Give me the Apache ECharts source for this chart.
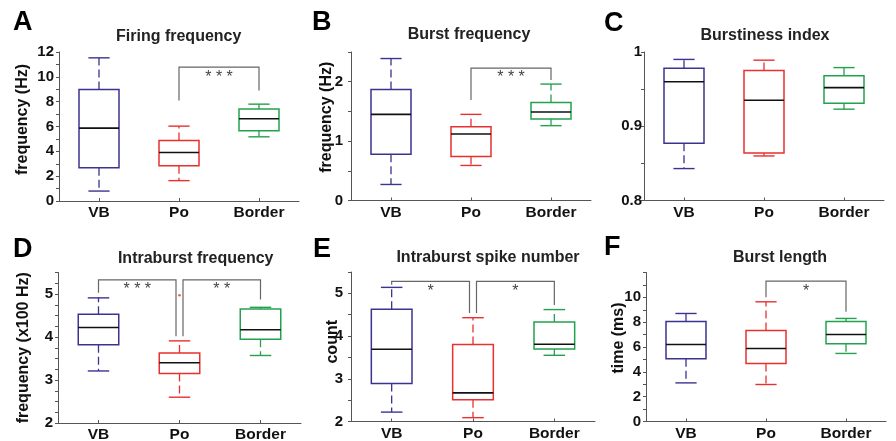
<!DOCTYPE html>
<html><head><meta charset="utf-8">
<script src="https://cdn.jsdelivr.net/npm/echarts@6/dist/echarts.min.js"></script>
<style>html,body{margin:0;padding:0;background:#fff}#c{width:896px;height:441px}</style>
</head><body><div id="c"></div>
<script>
const categories = ['VB', 'Po', 'Border'];
// box values per category: [lower whisker, q1, median, q3, upper whisker]
const firingFrequency = [[0.80, 2.68, 5.87, 8.98, 11.53], [1.64, 2.84, 3.91, 4.88, 6.03], [5.17, 5.66, 6.62, 7.40, 7.80]];
const burstFrequency = [[0.27, 0.78, 1.45, 1.87, 2.39], [0.59, 0.74, 1.12, 1.24, 1.45], [1.26, 1.37, 1.49, 1.65, 1.96]];
const burstinessIndex = [[0.843, 0.877, 0.960, 0.978, 0.990], [0.860, 0.864, 0.935, 0.975, 0.989], [0.923, 0.931, 0.952, 0.968, 0.979]];
const intraburstFrequency = [[3.21, 3.82, 4.22, 4.53, 4.91], [2.60, 3.15, 3.40, 3.63, 3.91], [3.57, 3.95, 4.17, 4.65, 4.69]];
const intraburstSpikeNumber = [[2.22, 2.89, 3.69, 4.63, 5.14], [2.09, 2.51, 2.67, 3.80, 4.43], [3.55, 3.70, 3.81, 4.33, 4.62]];
const burstLength = [[3.11, 5.05, 6.20, 8.05, 8.70], [2.98, 4.67, 5.88, 7.33, 9.64], [5.48, 6.26, 7.01, 8.05, 8.30]];
// outliers: [category, value]
const intraburstOutliers = [[1, 4.97]];
// significance brackets: [from category, to category, bracket top, from-leg end, to-leg end, stars]
const firingSig = [[1, 2, 10.78, 8.1, 8.9, '* * *']];
const burstSig = [[1, 2, 2.23, 1.69, 2.03, '* * *']];
const burstinessSig = [];
const intraburstSig = [[0, 1, 5.33, 5.03, 4.02, '* * *'], [1, 2, 5.33, 4.02, 4.87, '* *']];
const spikeSig = [[0, 1, 5.28, 5.2, 4.54, '*'], [1, 2, 5.28, 4.54, 4.73, '*']];
const lengthSig = [[1, 2, 11.3, 10.0, 8.83, '*']];
// labelled y ticks
const firingTicks = [0, 2, 4, 6, 8, 10, 12];
const burstTicks = [0, 1, 2];
const burstinessTicks = [0.8, 0.9, 1];
const intraburstTicks = [2, 3, 4, 5];
const spikeTicks = [2, 3, 4, 5];
const lengthTicks = [0, 2, 4, 6, 8, 10];

const FONT = "'Liberation Sans', Arial, sans-serif";
const boxColors = ['#3b3390', '#e8312f', '#23a14f'];
const axisColor = '#555';

const panels = [
  {letter: 'A', title: 'Firing frequency', yName: 'frequency (Hz)', data: firingFrequency, sig: firingSig, ticks: firingTicks,
   min: 0, max: 12, interval: 1, grid: {left: 59, top: 52, width: 240, height: 149}, labelMargin: 5, nameGap: 28, namePad: 14,
   letterPos: [13, 22.5], titlePos: [178.7, 36.5]},
  {letter: 'B', title: 'Burst frequency', yName: 'frequency (Hz)', data: burstFrequency, sig: burstSig, ticks: burstTicks,
   min: 0, max: 2.5, interval: 0.5, grid: {left: 351, top: 52, width: 240, height: 148.5}, labelMargin: 8, nameGap: 16, namePad: 18,
   letterPos: [312, 22.5], titlePos: [469, 35]},
  {letter: 'C', title: 'Burstiness index', yName: '', data: burstinessIndex, sig: burstinessSig, ticks: burstinessTicks,
   min: 0.8, max: 1, interval: 0.05, grid: {left: 644, top: 52, width: 240, height: 148.5}, labelMargin: 2, nameGap: 20, namePad: 0,
   letterPos: [604, 24], titlePos: [765, 35.5]},
  {letter: 'D', title: 'Intraburst frequency', yName: 'frequency (x100 Hz)', data: intraburstFrequency, sig: intraburstSig, ticks: intraburstTicks,
   min: 2, max: 5.5, interval: 0.25, grid: {left: 58, top: 272.5, width: 243, height: 150.5}, labelMargin: 5, nameGap: 26.5, namePad: 0,
   letterPos: [13, 249.5], titlePos: [195.7, 259]},
  {letter: 'E', title: 'Intraburst spike number', yName: 'count', data: intraburstSpikeNumber, sig: spikeSig, ticks: spikeTicks,
   min: 2, max: 5.5, interval: 0.5, grid: {left: 351, top: 272, width: 244, height: 149.5}, labelMargin: 8, nameGap: 10, namePad: 10,
   letterPos: [313, 249.5], titlePos: [488, 257.5]},
  {letter: 'F', title: 'Burst length', yName: 'time (ms)', data: burstLength, sig: lengthSig, ticks: lengthTicks,
   min: 0, max: 12, interval: 1, grid: {left: 646, top: 272.5, width: 240, height: 149}, labelMargin: 5, nameGap: 19, namePad: 18,
   letterPos: [604, 247.5], titlePos: [780, 257.5]}
];

function inTicks(list, v) {
  return list.some(t => Math.abs(t - v) < 1e-6);
}

function renderBox(params, api) {
  const idx = api.value(0);
  const lo = api.value(1), q1 = api.value(2), med = api.value(3), q3 = api.value(4), hi = api.value(5);
  const color = boxColors[idx];
  const band = api.size([1, 0])[0];
  const half = band * 0.25;
  const cap = half * 0.53;
  const pLo = api.coord([idx, lo]), pQ1 = api.coord([idx, q1]), pMed = api.coord([idx, med]);
  const pQ3 = api.coord([idx, q3]), pHi = api.coord([idx, hi]);
  const x = pMed[0];
  const dash = {stroke: color, lineWidth: 1.3, lineDash: [8, 4]};
  const solid = {stroke: color, lineWidth: 1.4};
  return {
    type: 'group',
    children: [
      {type: 'line', shape: {x1: x, y1: pQ3[1], x2: x, y2: pHi[1]}, style: dash},
      {type: 'line', shape: {x1: x, y1: pQ1[1], x2: x, y2: pLo[1]}, style: dash},
      {type: 'line', shape: {x1: x - cap, y1: pHi[1], x2: x + cap, y2: pHi[1]}, style: solid},
      {type: 'line', shape: {x1: x - cap, y1: pLo[1], x2: x + cap, y2: pLo[1]}, style: solid},
      {type: 'rect', shape: {x: x - half, y: pQ3[1], width: half * 2, height: pQ1[1] - pQ3[1]}, style: {fill: '#fff', stroke: color, lineWidth: 1.5}},
      {type: 'line', shape: {x1: x - half, y1: pMed[1], x2: x + half, y2: pMed[1]}, style: {stroke: '#111', lineWidth: 1.6}}
    ]
  };
}

function makeSigRenderer(sig) {
  return function (params, api) {
    const s = sig[params.dataIndex];
    const leftShared = sig.some(o => o !== s && o[1] === s[0]);
    const rightShared = sig.some(o => o !== s && o[0] === s[1]);
    const pTopL = api.coord([s[0], s[2]]);
    const pTopR = api.coord([s[1], s[2]]);
    const pL = api.coord([s[0], s[3]]);
    const pR = api.coord([s[1], s[4]]);
    const xl = pTopL[0] + (leftShared ? 3.5 : 0);
    const xr = pTopR[0] - (rightShared ? 3.5 : 0);
    const y = pTopL[1];
    const st = {stroke: '#666', lineWidth: 1.2, fill: 'none'};
    return {
      type: 'group',
      children: [
        {type: 'polyline', shape: {points: [[xl, pL[1]], [xl, y], [xr, y], [xr, pR[1]]]}, style: st},
        {type: 'text', x: (xl + xr) / 2, y: y + 2, style: {text: s[5], fill: '#444', fontSize: 16, fontFamily: FONT, align: 'center', verticalAlign: 'top', textAlign: 'center', textVerticalAlign: 'top'}}
      ]
    };
  };
}

const grid = [], xAxis = [], yAxis = [], series = [], graphic = [];
panels.forEach((p, i) => {
  grid.push(Object.assign({outerBoundsMode: 'none', containLabel: false}, p.grid));
  xAxis.push({
    type: 'category', gridIndex: i, data: categories, boundaryGap: true,
    axisLine: {show: true, lineStyle: {color: axisColor, width: 1}},
    axisTick: {show: true, alignWithLabel: true, inside: true, length: 3, lineStyle: {color: axisColor}},
    axisLabel: {margin: 4, color: '#111', fontSize: 15.5, fontWeight: 'bold', fontFamily: FONT},
    splitLine: {show: false}
  });
  yAxis.push({
    type: 'value', gridIndex: i, min: p.min, max: p.max, interval: p.interval,
    axisLine: {show: true, lineStyle: {color: axisColor, width: 1}},
    axisTick: {show: true, inside: false, length: 3, lineStyle: {color: axisColor}},
    splitLine: {show: false},
    axisLabel: {
      margin: p.labelMargin, color: '#111', fontSize: 15, fontWeight: 'bold', fontFamily: FONT,
      formatter: (v) => inTicks(p.ticks, v) ? String(Math.round(v * 1000) / 1000) : ''
    },
    name: p.yName, nameLocation: 'middle', nameGap: p.nameGap, nameRotate: 90, nameMoveOverlap: false,
    nameTextStyle: {color: '#111', fontSize: 16, fontWeight: 'bold', fontFamily: FONT, padding: [0, 0, 0, p.namePad]}
  });
  series.push({
    type: 'custom', xAxisIndex: i, yAxisIndex: i, renderItem: renderBox, clip: false,
    encode: {x: 0, y: [1, 2, 3, 4, 5]},
    data: p.data.map((d, k) => [k].concat(d))
  });
  if (p.sig.length) {
    series.push({
      type: 'custom', xAxisIndex: i, yAxisIndex: i, renderItem: makeSigRenderer(p.sig), clip: false,
      encode: {x: 0, y: 1},
      data: p.sig.map(s => [s[0], s[2]])
    });
  }
  graphic.push({type: 'text', x: p.letterPos[0], y: p.letterPos[1],
    style: {text: p.letter, fill: '#000', font: 'bold 27px ' + FONT, align: 'left', verticalAlign: 'middle', textAlign: 'left', textVerticalAlign: 'middle'}});
  graphic.push({type: 'text', x: p.titlePos[0], y: p.titlePos[1],
    style: {text: p.title, fill: '#222', font: 'bold 16px ' + FONT, align: 'center', verticalAlign: 'middle', textAlign: 'center', textVerticalAlign: 'middle'}});
});
series.push({
  type: 'scatter', xAxisIndex: 3, yAxisIndex: 3, symbol: 'circle', symbolSize: 2.5,
  itemStyle: {color: boxColors[1]}, data: intraburstOutliers
});

const chart = echarts.init(document.getElementById('c'), null, {renderer: 'canvas'});
chart.setOption({animation: false, backgroundColor: '#fff', grid, xAxis, yAxis, series, graphic});
</script>
</body></html>
